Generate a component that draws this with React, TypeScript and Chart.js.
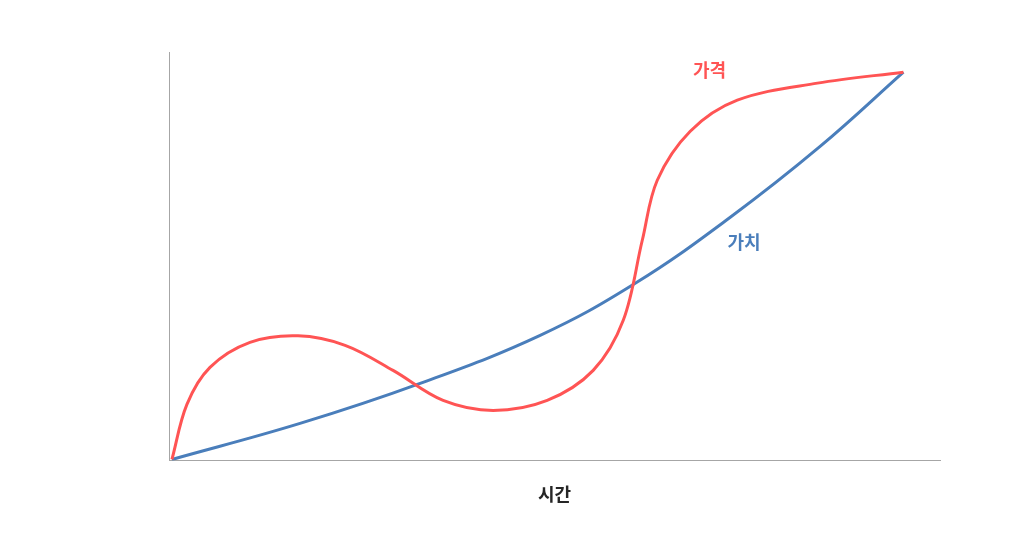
import React, { useEffect, useRef } from "react";
import { Chart, registerables } from "chart.js";

Chart.register(...registerables);

// Price curve (가격): x = time, y = level
const priceX = [0, 2.05, 5.2, 10.67, 17.24, 23.67, 30.23, 37.07, 43.91, 51.3, 57.59, 61.7, 64.3, 66.35, 70.86, 77.29, 88.24, 100];
const priceY = [0, 14.21, 23.77, 30.23, 31.91, 29.46, 23.0, 15.25, 12.66, 15.25, 23.0, 35.92, 56.59, 72.09, 84.75, 92.76, 97.16, 100];

// Value curve (가치)
const valueX = [0, 17.51, 33.93, 50.34, 63.34, 76.33, 88.65, 100];
const valueY = [0, 9.3, 19.64, 32.04, 45.48, 62.53, 80.88, 100];

const seriesNames = ["가격", "가치"];
const seriesColors = ["#FF5454", "#4A7EBB"];
// label anchor positions in data space
const labelX = [73.5, 78.2];
const labelY = [100.5, 56.1];
const xTitle = "시간";

const FONT = "'Noto Sans CJK KR', 'Noto Sans', sans-serif";

export default function App() {
  const ref = useRef<HTMLCanvasElement | null>(null);
  useEffect(() => {
    if (!ref.current) return;
    const labelPlugin = {
      id: "seriesLabels",
      afterDatasetsDraw(chart: any) {
        const { ctx, scales } = chart;
        ctx.save();
        ctx.font = `bold 18px ${FONT}`;
        ctx.textAlign = "center";
        ctx.textBaseline = "middle";
        seriesNames.forEach((n, i) => {
          ctx.fillStyle = seriesColors[i];
          ctx.fillText(n, scales.x.getPixelForValue(labelX[i]), scales.y.getPixelForValue(labelY[i]));
        });
        ctx.restore();
      },
    };
    const chart = new Chart(ref.current, {
      type: "line",
      data: {
        datasets: [
          {
            label: seriesNames[0],
            data: priceX.map((x, i) => ({ x, y: priceY[i] })),
            borderColor: seriesColors[0],
            borderWidth: 3,
            pointRadius: 0,
            tension: 0.35,
            fill: false,
          },
          {
            label: seriesNames[1],
            data: valueX.map((x, i) => ({ x, y: valueY[i] })),
            borderColor: seriesColors[1],
            borderWidth: 3,
            pointRadius: 0,
            tension: 0.4,
            fill: false,
          },
        ],
      },
      options: {
        animation: false,
        responsive: false,
        maintainAspectRatio: false,
        layout: { padding: { left: 169, right: 96, top: 52, bottom: 55 } },
        plugins: { legend: { display: false }, tooltip: { enabled: false } },
        scales: {
          x: {
            type: "linear",
            min: -0.4,
            max: 105,
            grid: { display: false, drawTicks: false },
            ticks: { display: false },
            border: { display: true, color: "#a6a6a6", width: 1 },
            title: {
              display: true,
              text: xTitle,
              color: "#262626",
              font: { family: FONT, size: 18, weight: "bold" },
              padding: { top: 23, bottom: 0 },
            },
          },
          y: {
            type: "linear",
            min: -0.25,
            max: 105.2,
            grid: { display: false, drawTicks: false },
            ticks: { display: false },
            border: { display: true, color: "#a6a6a6", width: 1 },
          },
        },
      },
      plugins: [labelPlugin],
    });
    return () => chart.destroy();
  }, []);
  return (
    <div style={{ position: "fixed", left: 0, top: 0, width: 1036, height: 560, background: "#fff" }}>
      <canvas ref={ref} width={1036} height={560} style={{ width: 1036, height: 560 }} />
    </div>
  );
}
